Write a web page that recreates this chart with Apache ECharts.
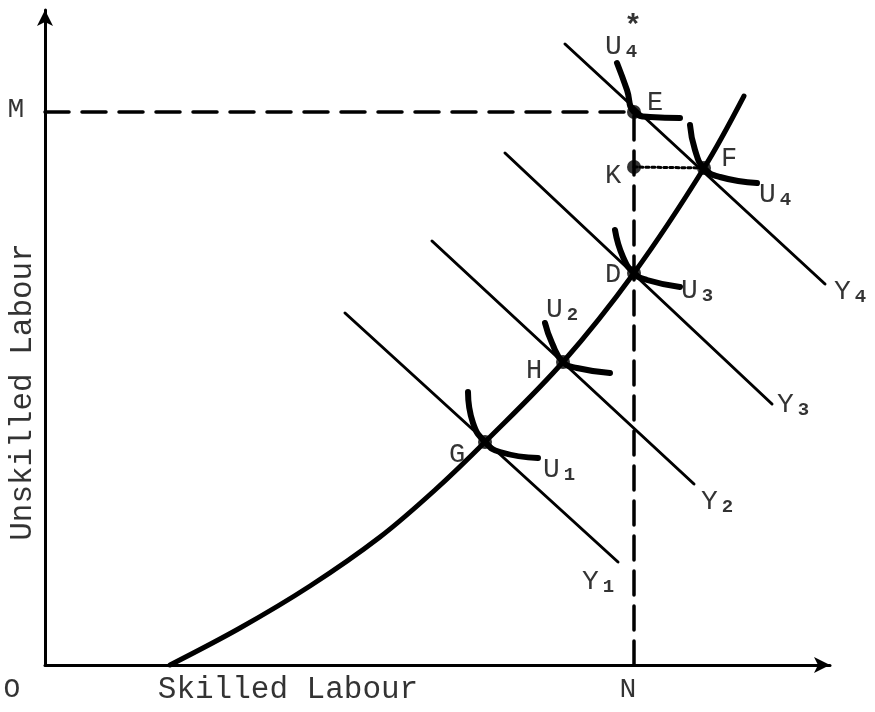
<!DOCTYPE html>
<html>
<head>
<meta charset="utf-8">
<script src="https://cdn.jsdelivr.net/npm/echarts@6/dist/echarts.min.js"></script>
<style>html,body{margin:0;padding:0;background:#fff}#chart{width:875px;height:712px}</style>
</head>
<body>
<div id="chart"></div>
<script>
// ---- data (x = skilled labour, y = unskilled labour, arbitrary units) ----
var expansionPath = [[125,0],[195,37],[265,79],[335,128],[390,175],[440,223],[518,303],[589,392],[659,497],[699,569]];
var pointNames = ['G','H','D','F','K','E'];
var pointX = [440, 518, 589, 659, 589, 589];
var pointY = [223, 303, 392, 497, 498, 553];
var budgetNames = ['Y1','Y2','Y3','Y4'];
var budgetLines = [
  [[300,352],[573,103]],
  [[387,424],[649,181]],
  [[460,512],[727,261]],
  [[520,621],[780,381]]
];
var indiffNames = ['U1','U2','U3','U4','U4*'];
var indiffCurves = [
  [[423,273],[428,242],[440,223],[455,213],[493,207]],
  [[500,342],[507,322],[518,303],[532,297],[565,292]],
  [[570,435],[578,408],[589,392],[602,385],[635,378]],
  [[645,540],[650,515],[659,497],[675,488],[712,482]],
  [[572,602],[582,575],[589,553],[605,548],[635,547]]
];
var lineM = [[0,553],[589,553]];
var lineN = [[589,0],[589,553]];
var lineKF = [[589,498],[659,497]];
var xMax = 785, yMax = 655;
// annotation texts and anchors
var annoText = ['E','K','F','D','H','G','M','O','N','Skilled Labour','Unskilled Labour',
  '{m|U}{s|1}','{m|U}{s|2}','{m|U}{s|3}','{m|U}{s|4}','{m|U}{s|4}','*',
  '{m|Y}{s|1}','{m|Y}{s|2}','{m|Y}{s|3}','{m|Y}{s|4}'];
var annoX = [610,568,684,568,489,412,-29,-33,583,243,-22, 514,517,652,730,576,588, 553,672,748,805];
var annoY = [562,489,506,390,294,210,555,-25,-25,-25,273, 195,355,374,470,618,638, 83,163,260,373];

var FONT = 'Liberation Mono';
var series = [];
function lineSeries(data, width, type, smooth) {
  return {type:'line', data:data, symbol:'none', smooth:smooth||false, silent:true, clip:false,
    lineStyle:{color:'#000', width:width, type:type||'solid', cap:'round', join:'round'}, z:2};
}
series.push(lineSeries(lineM, 3.5, [24,13]));
series.push(lineSeries(lineN, 3.5, [24,11]));
series.push(lineSeries(lineKF, 3, [3,3]));
budgetLines.forEach(function(d){ series.push(lineSeries(d, 3)); });
series.push(lineSeries(expansionPath, 5, 'solid', 0.35));
indiffCurves.forEach(function(d){ series.push(lineSeries(d, 6, 'solid', 0.5)); });
series.push({type:'scatter', silent:true, symbol:'circle', symbolSize:14, itemStyle:{color:'#000'}, z:5,
  data: pointX.map(function(x,i){ return {name:pointNames[i], value:[x, pointY[i]]}; })});
series.push({type:'scatter', silent:true, symbolSize:0, clip:false, z:6,
  data: annoX.map(function(x,i){
    var t = annoText[i];
    var item = {value:[x, annoY[i]], label:{formatter:t}};
    if (t === 'Unskilled Labour') { item.label.rotate = 90; item.label.fontSize = 31; }
    if (t === 'Skilled Labour') { item.label.fontSize = 31; }
    if (t === 'O' || t === 'N' || t === 'M') { item.label.fontSize = 28; }
    if (t === '*') { item.label.fontSize = 30; item.label.fontWeight = 'bold'; }
    return item;
  }),
  label:{show:true, position:'inside', color:'#000', fontFamily:FONT, fontSize:27,
    rich:{
      m:{fontFamily:FONT, fontSize:28, lineHeight:30, color:'#000'},
      s:{fontFamily:FONT, fontSize:19, lineHeight:19, fontWeight:'bold', verticalAlign:'bottom', padding:[0,0,0,4], color:'#000'}
    }}
});

var chart = echarts.init(document.getElementById('chart'), null, {renderer:'canvas'});
chart.setOption({
  animation:false,
  backgroundColor:'#fff',
  grid:{left:45, top:10, width:785, height:655, outerBoundsMode:'none'},
  xAxis:{type:'value', min:0, max:xMax, axisLine:{show:true, symbol:['none','arrow'], symbolSize:[12,16], lineStyle:{color:'#000', width:3}},
    axisTick:{show:false}, axisLabel:{show:false}, splitLine:{show:false}},
  yAxis:{type:'value', min:0, max:yMax, axisLine:{show:true, symbol:['none','arrow'], symbolSize:[12,16], lineStyle:{color:'#000', width:3}},
    axisTick:{show:false}, axisLabel:{show:false}, splitLine:{show:false}},
  series:series
});
</script>
</body>
</html>
